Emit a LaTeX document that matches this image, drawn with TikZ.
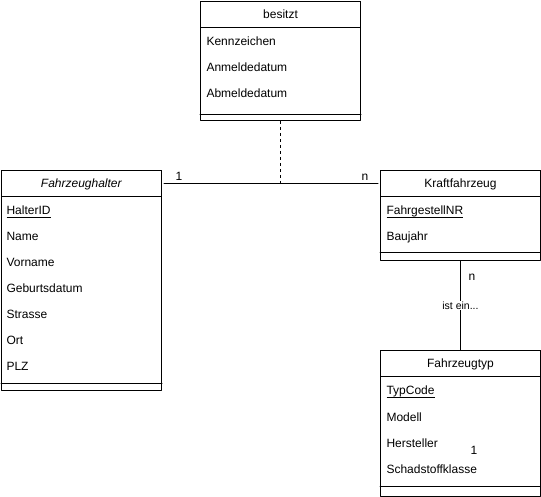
\documentclass[tikz,border=0pt]{standalone}
\usepackage{fontspec}
\setmainfont{Liberation Sans}
\usetikzlibrary{positioning}
\newcommand{\keyattr}[1]{\setbox0\hbox{#1}\rlap{\rule[-3.4pt]{\wd0}{0.7pt}}\box0}
\begin{document}
\begin{tikzpicture}[x=1pt,y=-1pt, line join = round, line cap = round, line width=1pt,
		font=\fontsize{12}{14}\selectfont,
		box/.style={draw, rectangle, anchor=north west, minimum width=160pt, inner sep=0pt},
		head/.style={box, minimum height=26pt, text height=9.4pt, text depth=0.8pt},
		attr/.style={anchor=base west, inner sep=0pt},
		card/.style={anchor=base, inner sep=0pt}]
	\useasboundingbox (0,0) rectangle (541,497);
	% besitzt
	\node[box, minimum height=119pt] (besitzt) at (200,1) {};
	\node[head] (besitztH) at (200,1) {besitzt};
	\draw ([yshift=6pt]besitzt.south west) -- ([yshift=6pt]besitzt.south east);
	\foreach \y/\t in {45.5/Kennzeichen, 71.5/Anmeldedatum, 97.5/Abmeldedatum}
	\node[attr] at (206,\y) {\t};
	% Fahrzeughalter
	\node[box, minimum height=220pt] (halter) at (1,170) {};
	\node[head] (halterH) at (1,170) {\textit{Fahrzeughalter}};
	\draw ([yshift=8pt]halter.south west) -- ([yshift=8pt]halter.south east);
	\node[attr] at (6,214.5) {\keyattr{HalterID}};
	\foreach \y/\t in {240.5/Name, 266.5/Vorname, 292.5/Geburtsdatum, 318.5/Strasse, 344.5/Ort, 370.5/PLZ}
	\node[attr] at (6,\y) {\t};
	% Kraftfahrzeug
	\node[box, minimum height=90pt] (kfz) at (380,170) {};
	\node[head] (kfzH) at (380,170) {Kraftfahrzeug};
	\draw ([yshift=8pt]kfz.south west) -- ([yshift=8pt]kfz.south east);
	\node[attr] at (386,214.5) {\keyattr{FahrgestellNR}};
	\node[attr] at (386,240.5) {Baujahr};
	% Fahrzeugtyp
	\node[box, minimum height=146pt] (typ) at (380,350) {};
	\node[head] (typH) at (380,350) {Fahrzeugtyp};
	\draw ([yshift=11pt]typ.south west) -- ([yshift=11pt]typ.south east);
	\node[attr] at (386,394.5) {\keyattr{TypCode}};
	\foreach \y/\t in {421/Modell, 447/Hersteller, 473/Schadstoffklasse}
	\node[attr] at (386,\y) {\t};
	% Beziehungen
	\draw[shorten <=2pt, shorten >=2pt] (halterH.east) -- (kfzH.west);
	\draw[dashed, line cap=butt, dash pattern=on 3pt off 3pt] (besitzt.south) -- (besitzt.south |- halterH.east);
	\draw (kfz.south) -- node[fill=white, inner sep=1pt, font=\fontsize{10.5}{12}\selectfont] (isa) {ist ein...} (typH.north);
	\node[card] (c1) at (179,180.5) {1};
	\node[card] (cn) at (365,180.5) {n};
	\node[card] (cn2) at (472,280) {n};
	\node[card] (c12) at (474,454) {1};
\end{tikzpicture}
\end{document}
